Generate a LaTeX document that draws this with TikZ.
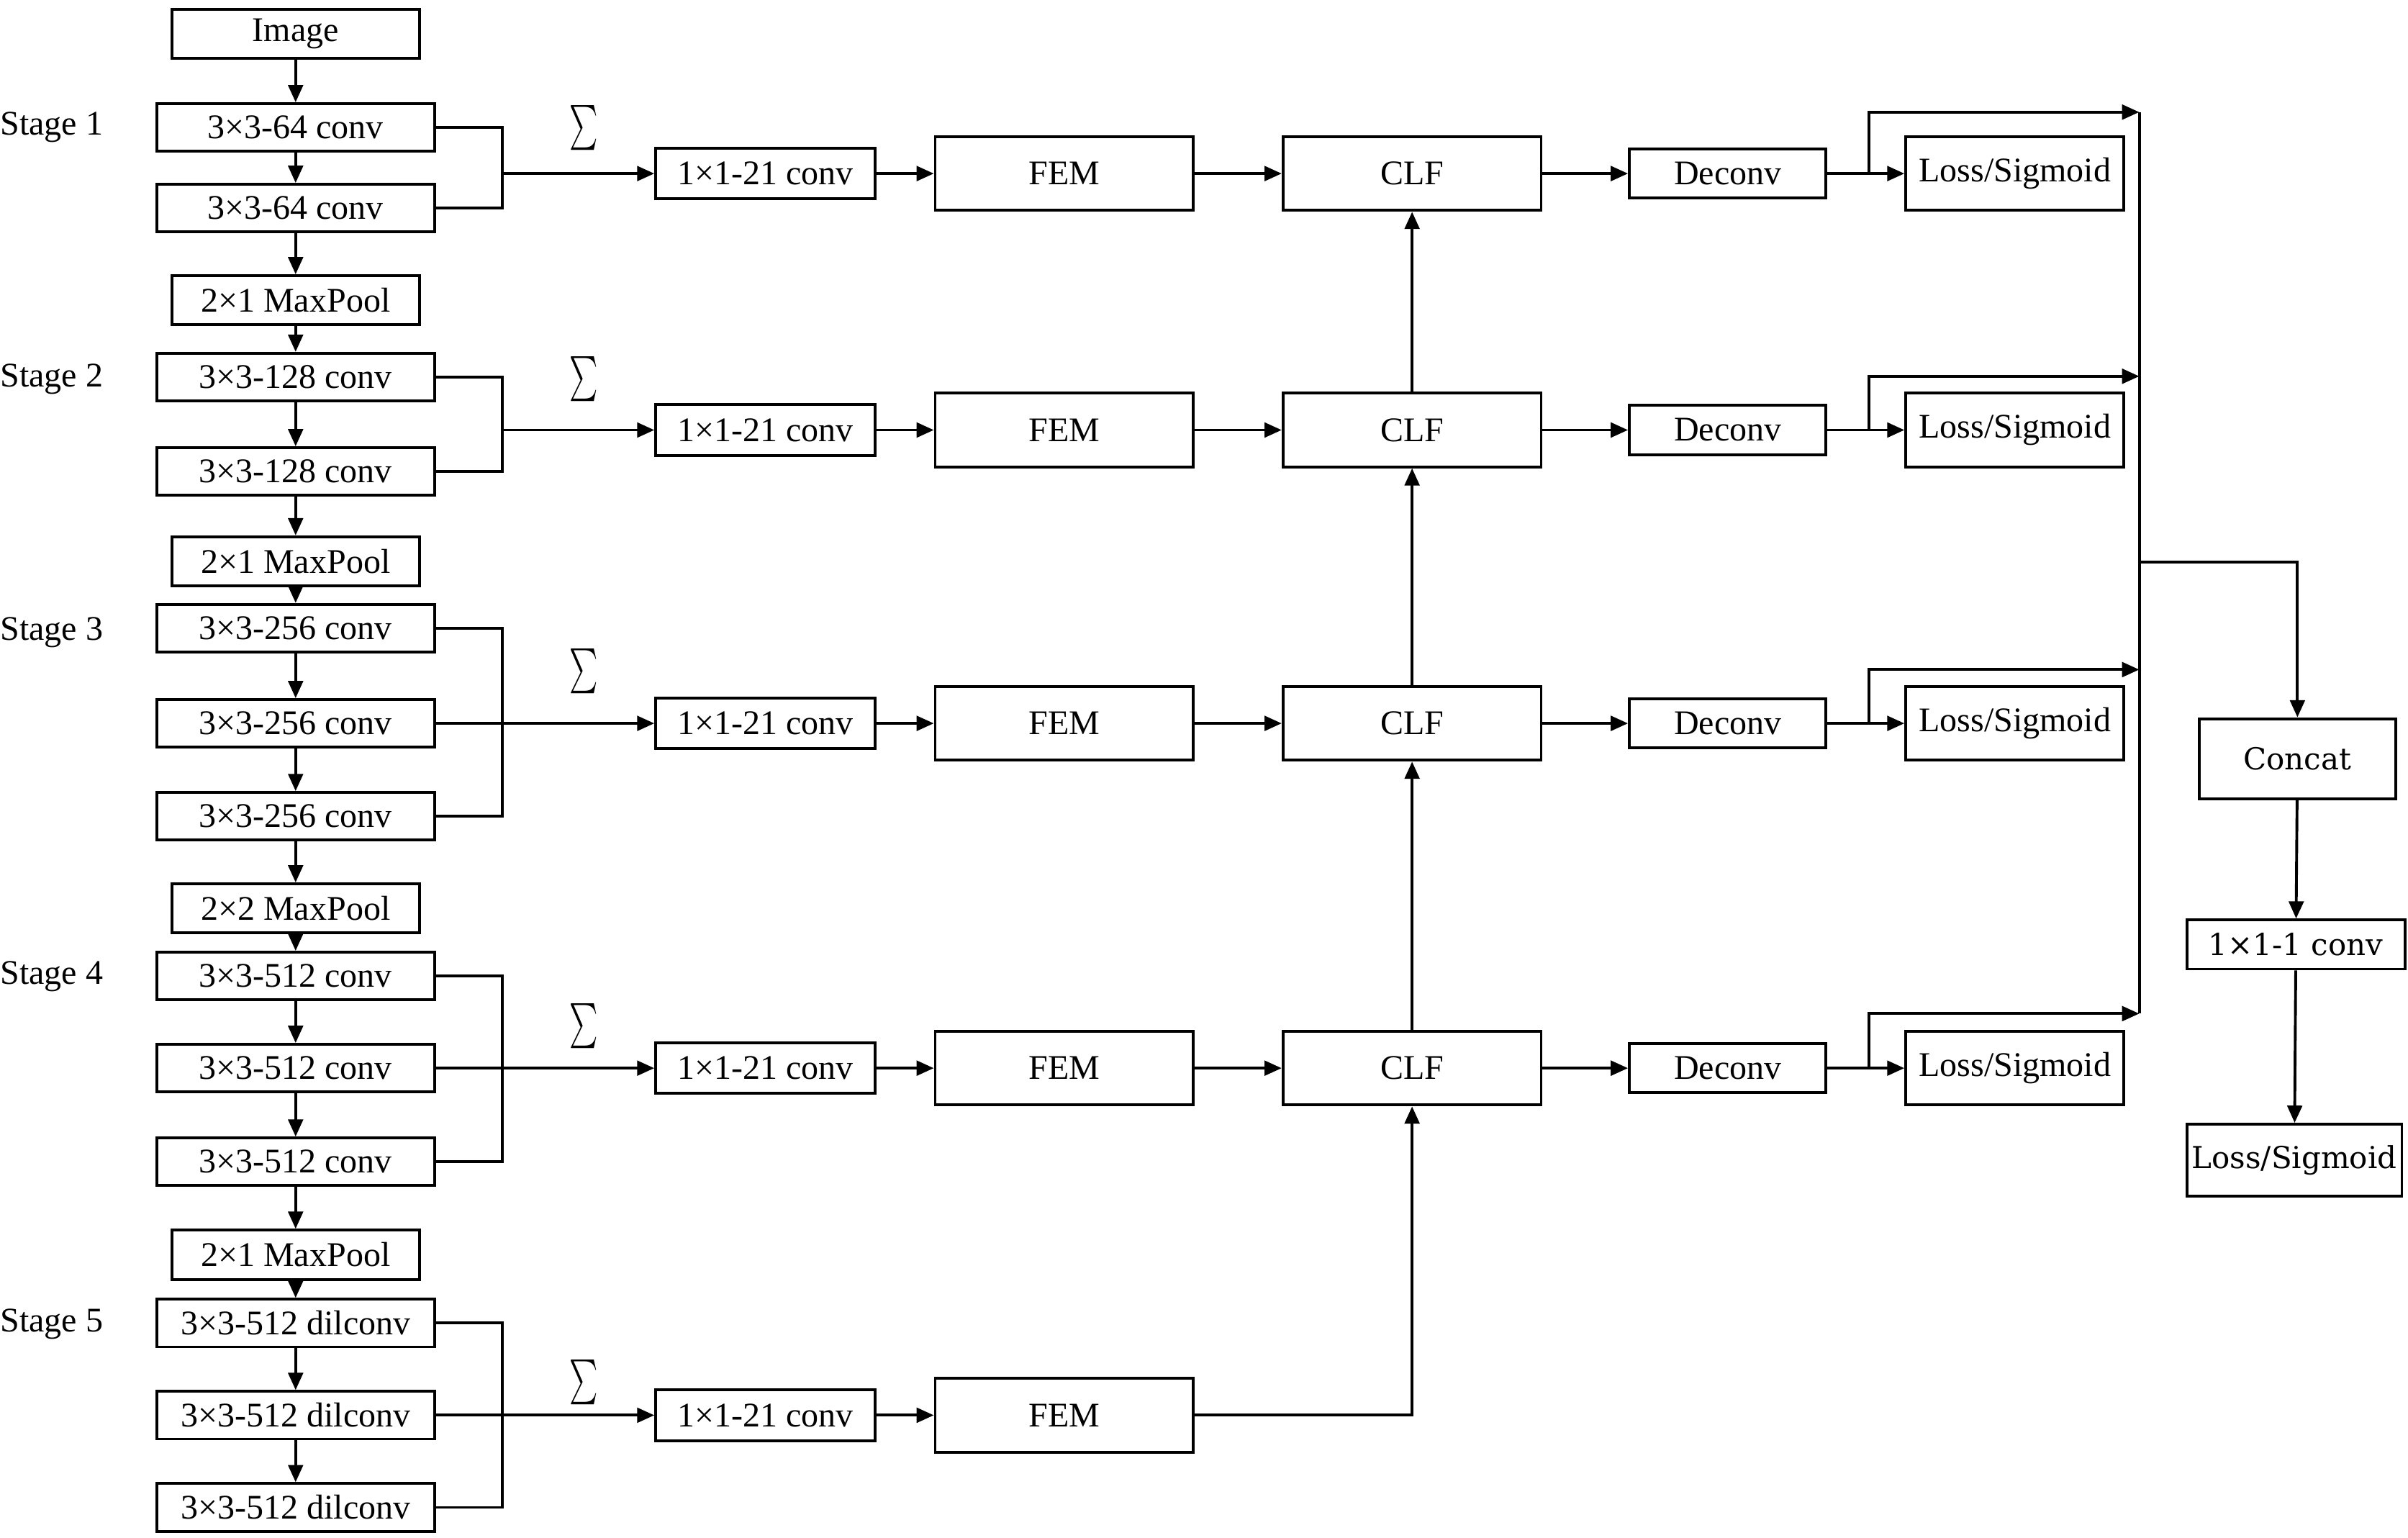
\documentclass[tikz,border=0pt]{standalone}
\usepackage{exscale}
\usepackage{graphicx}
\usepackage{fontspec}
\setmainfont{Liberation Serif}
\newfontfamily\widefont{DejaVu Serif}
\usepackage{tikz}
\usetikzlibrary{arrows.meta, positioning}

\newcommand{\sumsign}{\scalebox{0.6}[1]{$\sum$}}

\begin{document}
\begin{tikzpicture}[x=0.025cm, y=-0.025cm, every node/.style={font=\fontsize{16}{18}\selectfont}]
    \tikzstyle{convbox} = [rectangle, draw=black, line width=1.3pt, minimum width=4.525cm, minimum height=0.775cm, inner sep=0pt, align=center]
    \tikzstyle{poolbox} = [convbox, minimum width=4.025cm, minimum height=0.8cm]
    \tikzstyle{sidebox} = [convbox, minimum width=3.575cm, minimum height=0.825cm]
    \tikzstyle{bigbox} = [convbox, minimum width=4.2cm, minimum height=1.2cm]
    \tikzstyle{deconvbox} = [convbox, minimum width=3.2cm, minimum height=0.8cm]
    \tikzstyle{lossbox} = [convbox, minimum width=3.55cm, minimum height=1.2cm]
    \tikzstyle{fusebox} = [convbox, font=\widefont\fontsize{14}{16}\selectfont]
    \tikzstyle{sumlabel} = [font=\fontsize{22}{24}\selectfont, inner sep=0pt]
    \tikzstyle{arrow} = [-{Triangle[length=0.28cm, width=0.24cm]}, line width=1.3pt]
    \tikzstyle{wire} = [line width=1.3pt]

    \useasboundingbox (0,0) rectangle (1568,1001);

    % backbone
    \node[poolbox] (image) at (192.5,22) {Image};
    \node[convbox] (s1a) at (192.5,83) {3×3-64 conv};
    \node[convbox] (s1b) at (192.5,135.5) {3×3-64 conv};
    \node[poolbox] (pool1) at (192.5,195.5) {2×1 MaxPool};
    \node[convbox] (s2a) at (192.5,245.5) {3×3-128 conv};
    \node[convbox] (s2b) at (192.5,307) {3×3-128 conv};
    \node[poolbox] (pool2) at (192.5,365.5) {2×1 MaxPool};
    \node[convbox] (s3a) at (192.5,409) {3×3-256 conv};
    \node[convbox] (s3b) at (192.5,471) {3×3-256 conv};
    \node[convbox] (s3c) at (192.5,531.5) {3×3-256 conv};
    \node[poolbox] (pool3) at (192.5,591.5) {2×2 MaxPool};
    \node[convbox] (s4a) at (192.5,635.5) {3×3-512 conv};
    \node[convbox] (s4b) at (192.5,695.5) {3×3-512 conv};
    \node[convbox] (s4c) at (192.5,756.5) {3×3-512 conv};
    \node[poolbox] (pool4) at (192.5,817) {2×1 MaxPool};
    \node[convbox] (s5a) at (192.5,861.5) {3×3-512 dilconv};
    \node[convbox] (s5b) at (192.5,921.5) {3×3-512 dilconv};
    \node[convbox] (s5c) at (192.5,981.5) {3×3-512 dilconv};

    \node[anchor=west, inner sep=0pt] (lab1) at (0,83) {Stage 1};
    \node[anchor=west, inner sep=0pt] (lab2) at (0,247) {Stage 2};
    \node[anchor=west, inner sep=0pt] (lab3) at (0,412) {Stage 3};
    \node[anchor=west, inner sep=0pt] (lab4) at (0,636) {Stage 4};
    \node[anchor=west, inner sep=0pt] (lab5) at (0,862) {Stage 5};

    \node[sumlabel] (sum1) at (380,83) {\sumsign};
    \node[sumlabel] (sum2) at (380,247) {\sumsign};
    \node[sumlabel] (sum3) at (380,437) {\sumsign};
    \node[sumlabel] (sum4) at (380,668) {\sumsign};
    \node[sumlabel] (sum5) at (380,900) {\sumsign};

    % side outputs
    \node[sidebox] (red1) at (498.5,113) {1×1-21 conv};
    \node[sidebox] (red2) at (498.5,280) {1×1-21 conv};
    \node[sidebox] (red3) at (498.5,471) {1×1-21 conv};
    \node[sidebox] (red4) at (498.5,695.5) {1×1-21 conv};
    \node[sidebox] (red5) at (498.5,921.5) {1×1-21 conv};

    \node[bigbox] (fem1) at (693,113) {FEM};
    \node[bigbox] (fem2) at (693,280) {FEM};
    \node[bigbox] (fem3) at (693,471) {FEM};
    \node[bigbox] (fem4) at (693,695.5) {FEM};
    \node[bigbox] (fem5) at (693,921.5) {FEM};

    \node[bigbox] (clf1) at (919.5,113) {CLF};
    \node[bigbox] (clf2) at (919.5,280) {CLF};
    \node[bigbox] (clf3) at (919.5,471) {CLF};
    \node[bigbox] (clf4) at (919.5,695.5) {CLF};

    \node[deconvbox] (up1) at (1125,113) {Deconv};
    \node[deconvbox] (up2) at (1125,280) {Deconv};
    \node[deconvbox] (up3) at (1125,471) {Deconv};
    \node[deconvbox] (up4) at (1125,695.5) {Deconv};

    \node[lossbox] (loss1) at (1312,113) {Loss/Sigmoid};
    \node[lossbox] (loss2) at (1312,280) {Loss/Sigmoid};
    \node[lossbox] (loss3) at (1312,471) {Loss/Sigmoid};
    \node[lossbox] (loss4) at (1312,695.5) {Loss/Sigmoid};

    % fusion
    \node[fusebox, minimum width=3.2cm, minimum height=1.3cm] (concat) at (1496,494) {Concat};
    \node[fusebox, minimum width=3.55cm, minimum height=0.8cm] (fuse) at (1495,615) {1×1-1 conv};
    \node[fusebox, minimum width=3.5cm, minimum height=1.175cm] (lossf) at (1494,755.5) {Loss/Sigmoid};

    \coordinate (j1) at (327,113);
    \coordinate (j2) at (327,280);
    \coordinate (j3) at (327,471);
    \coordinate (j4) at (327,695.5);
    \coordinate (j5) at (327,921.5);
    \coordinate (b1) at (1217,113);
    \coordinate (b2) at (1217,280);
    \coordinate (b3) at (1217,471);
    \coordinate (b4) at (1217,695.5);
    \coordinate (t1) at (1393,73);
    \coordinate (t2) at (1393,245);
    \coordinate (t3) at (1393,436);
    \coordinate (t4) at (1393,660);
    \coordinate (mid) at (1393,366);

    % backbone arrows
    \draw[arrow] (image) -- (s1a);
    \draw[arrow] (s1a) -- (s1b);
    \draw[arrow] (s1b) -- (pool1);
    \draw[arrow] (pool1) -- (s2a);
    \draw[arrow] (s2a) -- (s2b);
    \draw[arrow] (s2b) -- (pool2);
    \draw[arrow] (pool2) -- (s3a);
    \draw[arrow] (s3a) -- (s3b);
    \draw[arrow] (s3b) -- (s3c);
    \draw[arrow] (s3c) -- (pool3);
    \draw[arrow] (pool3) -- (s4a);
    \draw[arrow] (s4a) -- (s4b);
    \draw[arrow] (s4b) -- (s4c);
    \draw[arrow] (s4c) -- (pool4);
    \draw[arrow] (pool4) -- (s5a);
    \draw[arrow] (s5a) -- (s5b);
    \draw[arrow] (s5b) -- (s5c);

    % summing brackets
    \draw[wire] (s1a.east) -| (j1);
    \draw[wire] (s1b.east) -| (j1);
    \draw[arrow] (j1) -- (red1);
    \draw[wire] (s2a.east) -| (j2);
    \draw[wire] (s2b.east) -| (j2);
    \draw[arrow] (j2) -- (red2);
    \draw[wire] (s3a.east) -| (j3);
    \draw[wire] (s3c.east) -| (j3);
    \draw[arrow] (s3b) -- (red3);
    \draw[wire] (s4a.east) -| (j4);
    \draw[wire] (s4c.east) -| (j4);
    \draw[arrow] (s4b) -- (red4);
    \draw[wire] (s5a.east) -| (j5);
    \draw[wire] (s5c.east) -| (j5);
    \draw[arrow] (s5b) -- (red5);

    % rows
    \draw[arrow] (red1) -- (fem1);
    \draw[arrow] (fem1) -- (clf1);
    \draw[arrow] (clf1) -- (up1);
    \draw[arrow] (up1) -- (loss1);
    \draw[arrow] (red2) -- (fem2);
    \draw[arrow] (fem2) -- (clf2);
    \draw[arrow] (clf2) -- (up2);
    \draw[arrow] (up2) -- (loss2);
    \draw[arrow] (red3) -- (fem3);
    \draw[arrow] (fem3) -- (clf3);
    \draw[arrow] (clf3) -- (up3);
    \draw[arrow] (up3) -- (loss3);
    \draw[arrow] (red4) -- (fem4);
    \draw[arrow] (fem4) -- (clf4);
    \draw[arrow] (clf4) -- (up4);
    \draw[arrow] (up4) -- (loss4);
    \draw[arrow] (red5) -- (fem5);

    % top-down fusion of CLF
    \draw[arrow] (fem5) -| (clf4);
    \draw[arrow] (clf4) -- (clf3);
    \draw[arrow] (clf3) -- (clf2);
    \draw[arrow] (clf2) -- (clf1);

    % side outputs to concat
    \draw[arrow] (b1) |- (t1);
    \draw[arrow] (b2) |- (t2);
    \draw[arrow] (b3) |- (t3);
    \draw[arrow] (b4) |- (t4);
    \draw[wire] (t1) -- (t4);
    \draw[arrow] (mid) -| (concat);
    \draw[arrow] (concat) -- (fuse);
    \draw[arrow] (fuse) -- (lossf);
\end{tikzpicture}
\end{document}
